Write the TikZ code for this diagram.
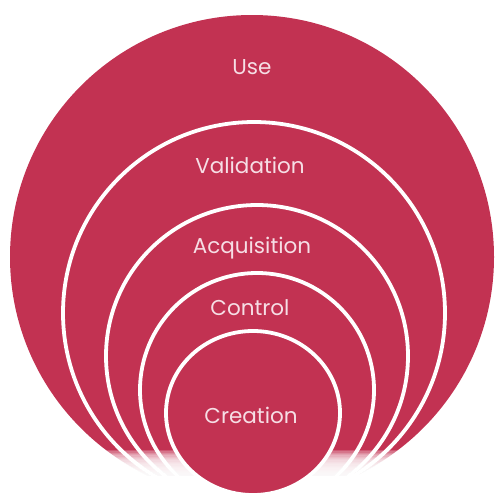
\documentclass[tikz,border=0pt]{standalone}
\usepackage{fontspec}
\setmainfont{Poppins}
\definecolor{crim}{RGB}{194,50,82}
\definecolor{lbl}{RGB}{246,222,229}
\begin{document}
\begin{tikzpicture}[x=1pt,y=-1pt,
  ring/.style={fill=crim, draw=white, line width=3.8pt},
  lab/.style={text=lbl, font=\fontsize{21.5}{21.5}\selectfont, inner sep=0pt, anchor=base}]
\useasboundingbox (0,0) rectangle (496,498);
\fill[crim] (252,257) circle [radius=242];
\draw[ring] (254,313) circle [radius=191];
\draw[ring] (257,356) circle [radius=151];
\draw[ring] (257,390) circle [radius=117];
% bottom fade
\foreach \i in {0,...,19} {
  \fill[white, fill opacity=0.18] (0,{450+\i*1.3}) rectangle (496,498);
}
\fill[white] (0,476) rectangle (496,498);
\draw[ring] (253,413) ellipse [x radius=87, y radius=82];
\node[lab] (use) at (252,74) {Use};
\node[lab] (val) at (250,173) {Validation};
\node[lab] (acq) at (252,253) {Acquisition};
\node[lab] (con) at (250,315) {Control};
\node[lab] (cre) at (251,423) {Creation};
\end{tikzpicture}
\end{document}
